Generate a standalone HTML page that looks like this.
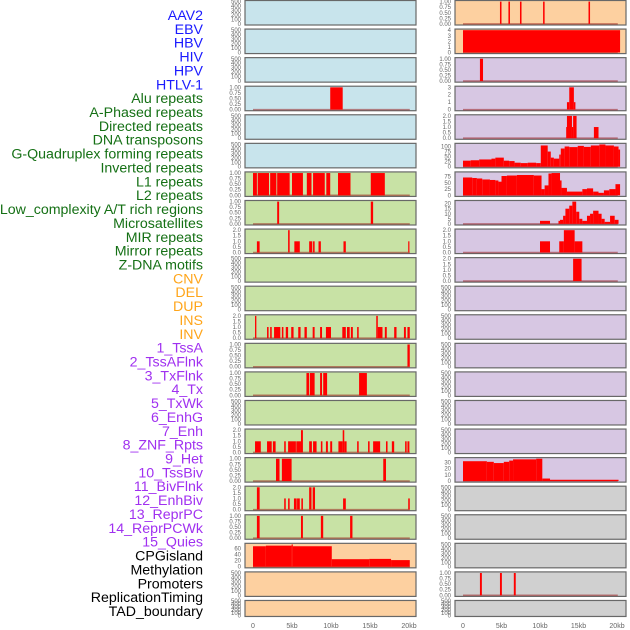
<!DOCTYPE html>
<html><head><meta charset="utf-8">
<style>
html,body{margin:0;padding:0;background:#fff;}
svg{display:block;font-family:"Liberation Sans",sans-serif;}
</style></head>
<body>
<svg id="chart" width="630" height="630" viewBox="0 0 630 630" xmlns="http://www.w3.org/2000/svg"></svg>
<script>
const labels = ["AAV2","EBV","HBV","HIV","HPV","HTLV-1","Alu repeats","A-Phased repeats","Directed repeats","DNA transposons","G-Quadruplex forming repeats","Inverted repeats","L1 repeats","L2 repeats","Low_complexity A/T rich regions","Microsatellites","MIR repeats","Mirror repeats","Z-DNA motifs","CNV","DEL","DUP","INS","INV","1_TssA","2_TssAFlnk","3_TxFlnk","4_Tx","5_TxWk","6_EnhG","7_Enh","8_ZNF_Rpts","9_Het","10_TssBiv","11_BivFlnk","12_EnhBiv","13_ReprPC","14_ReprPCWk","15_Quies","CPGisland","Methylation","Promoters","ReplicationTiming","TAD_boundary"];
const labelColors = [];
labels.forEach((l,i)=>labelColors.push(i<6?"#1a1aff":i<19?"#157015":i<24?"#ffa51a":i<39?"#a030f0":"#000"));
const xTicks = [0,5,10,15,20];
const xTickLabels = ["0","5kb","10kb","15kb","20kb"];

// bars: [startKb, endKb, value]
const L3 = [[9.9,11.5,1]];
const L6 = [[0,0.5,1],[0.6,2.05,1],[2.2,3.0,1],[3.1,4.7,1],[5.0,6.4,1],[6.9,7.5,1],[7.7,9.2,1],[9.4,9.9,1],[10.9,12.5,1],[15.1,16.9,1]];
const L7 = [[3.1,3.35,1],[15.1,15.4,1]];
const L8 = [[0.5,0.85,1],[4.5,4.7,2],[5.3,6.0,1],[7.2,7.6,1],[7.7,7.9,1],[8.4,8.7,1],[11.6,11.9,1],[19.9,20.05,1]];
const L11 = [[0.26,0.43,2],[1.8,2.0,1],[2.2,2.4,1],[2.7,3.5,1],[3.7,3.9,1],[4.2,4.5,1],[4.9,5.2,1],[5.8,6.1,1],[6.6,6.9,1],[7.65,7.9,1],[8.6,8.85,1],[9.35,10.0,1],[11.45,11.9,1],[12.05,12.4,1],[12.55,12.8,1],[13.35,13.55,1],[15.8,16.0,2],[16.0,16.6,1],[16.9,17.15,1],[18.1,18.4,1],[19.35,19.6,1],[19.8,20.1,1]];
const L12 = [[19.8,20.1,1]];
const L13 = [[6.85,7.2,1],[7.3,7.9,1],[8.6,8.85,1],[9.0,9.5,1],[13.6,14.6,1]];
const L15 = [[0.26,1.0,1],[1.8,2.4,1],[2.55,2.9,1],[4.0,4.2,1],[4.5,5.5,1],[5.55,6.15,1],[6.15,6.4,2],[7.2,7.55,1],[7.7,8.15,1],[8.7,8.9,1],[9.35,9.6,1],[9.9,10.15,1],[10.95,11.5,1],[11.5,11.7,2],[11.7,12.0,1],[13.35,13.55,1],[14.75,14.95,1],[15.4,16.3,1],[17.05,17.25,1],[17.8,18.1,1],[19.5,19.7,1],[19.8,20.05,1]];
const L16 = [[2.95,3.4,1],[3.7,4.95,1],[16.7,17.05,1]];
const L17 = [[0.5,0.85,2],[4.0,4.2,1],[4.5,4.7,1],[5.25,5.6,1],[5.65,6.0,1],[6.2,6.4,1],[7.2,7.5,2],[7.65,7.95,2],[11.55,11.9,1],[19.9,20.1,1]];
const L18 = [[0.5,0.85,1],[6.15,6.4,1],[8.7,9.0,1],[12.45,12.75,1]];
const L19 = [[0,1.65,68],[1.65,4.95,70],[4.95,5.1,74],[5.1,10.1,68],[10.1,14.9,25],[14.9,17.7,26],[17.7,20.1,22]];

const R0 = [[4.8,5.0,1],[5.9,6.1,1],[7.4,7.6,1],[10.4,10.6,1],[16.3,16.5,1]];
const R1 = [[0,20.4,4]];
const R2 = [[2.2,2.6,1]];
const R3 = [[13.5,13.8,1],[13.8,14.4,3],[14.4,14.6,1]];
const R4 = [[13.4,13.5,1],[13.5,14.15,2],[14.15,14.3,1],[14.3,14.75,2],[17.0,17.6,1]];
const R5 = [[0,1,30],[1,2.1,32],[2.1,3.7,36],[3.7,4.2,40],[4.2,5.3,45],[5.3,6.0,30],[6.0,6.7,28],[6.7,7.5,20],[7.5,8.4,18],[8.4,9.5,20],[9.5,10.1,18],[10.1,11.0,105],[11.0,11.4,75],[11.4,11.8,45],[11.8,12.5,40],[12.5,12.7,60],[12.7,13.2,90],[13.2,13.8,100],[13.8,14.9,97],[14.9,15.7,103],[15.7,16.6,98],[16.6,17.7,105],[17.7,18.5,110],[18.5,19.6,105],[19.6,20.2,100],[20.2,20.4,85]];
const R6 = [[0,1.2,72],[1.2,1.8,70],[1.8,2.5,68],[2.5,3.5,64],[3.5,4.2,62],[4.2,4.6,60],[4.6,5.0,55],[5.0,5.7,78],[5.7,7.0,80],[7.0,9.2,82],[9.2,10.2,80],[10.2,10.6,25],[10.6,11.1,40],[11.1,11.5,88],[11.5,12.6,90],[12.6,12.8,60],[12.8,13.5,30],[13.5,15.5,15],[15.5,16.1,25],[16.1,16.9,28],[16.9,17.6,15],[17.6,18.3,10],[18.3,19.0,20],[19.0,19.8,25],[19.8,20.4,45]];
const R7 = [[10.0,11.3,3],[12.4,12.6,3],[12.6,13.0,4],[13.0,13.3,8],[13.3,13.8,15],[13.8,14.2,18],[14.2,14.7,22],[14.7,15.1,12],[15.1,15.5,5],[15.5,16.1,3],[16.1,16.5,8],[16.5,16.9,10],[16.9,17.6,13],[17.6,18.0,10],[18.0,18.4,5],[18.4,19.1,2],[19.1,19.7,8],[19.7,20.2,4]];
const R8 = [[10.0,11.3,1],[12.5,13.1,1],[13.1,14.5,2],[14.5,15.5,1]];
const R9 = [[14.3,15.4,2]];
const R16 = [[0,3.1,32],[3.1,4.0,31],[4.0,5.3,29],[5.3,6.0,31],[6.0,6.5,33],[6.5,9.5,35],[9.5,10.3,36],[10.3,11.3,4],[11.3,20.2,2]];
const R20 = [[2.2,2.45,1],[4.8,5.05,1],[6.6,6.85,1]];

const T500 = [[0,100,200,300,400,500],["0","100","200","300","400","500"]];
const T1 = [[0,0.25,0.5,0.75,1],["0.00","0.25","0.50","0.75","1.00"]];
const T2 = [[0,0.5,1,1.5,2],["0.0","0.5","1.0","1.5","2.0"]];
const T3 = [[0,1,2,3],["0","1","2","3"]];
const T4 = [[0,1,2,3,4],["0","1","2","3","4"]];
const T20 = [[0,5,10,15,20],["0","5","10","15","20"]];
const T30 = [[0,10,20,30],["0","10","20","30"]];
const T60 = [[0,20,40,60],["0","20","40","60"]];
const T75 = [[0,25,50,75],["0","25","50","75"]];
const T100 = [[0,25,50,75,100],["0","25","50","75","100"]];

const BLUE="#c8e4ec", GREEN="#c8e2a5", ORANGE="#fdd0a0", PURPLE="#d7c7e3", GRAY="#d0d0d0";
const leftPanels = [
 [BLUE,null,T500,500],[BLUE,null,T500,500],[BLUE,null,T500,500],[BLUE,L3,T1,1],[BLUE,null,T500,500],[BLUE,null,T500,500],
 [GREEN,L6,T1,1],[GREEN,L7,T1,1],[GREEN,L8,T2,2],[GREEN,null,T500,500],[GREEN,null,T500,500],[GREEN,L11,T2,2],
 [GREEN,L12,T1,1],[GREEN,L13,T1,1],[GREEN,null,T500,500],[GREEN,L15,T2,2],[GREEN,L16,T1,1],[GREEN,L17,T2,2],[GREEN,L18,T1,1],
 [ORANGE,L19,T60,74],[ORANGE,null,T500,500],[ORANGE,null,T500,500]];
const rightPanels = [
 [ORANGE,R0,T1,1],[ORANGE,R1,T4,4],[PURPLE,R2,T1,1],[PURPLE,R3,T3,3],[PURPLE,R4,T2,2],[PURPLE,R5,T100,110],[PURPLE,R6,T75,90],
 [PURPLE,R7,T20,22],[PURPLE,R8,T2,2],[PURPLE,R9,T2,2],[PURPLE,null,T500,500],[PURPLE,null,T500,500],[PURPLE,null,T500,500],
 [PURPLE,null,T500,500],[PURPLE,null,T500,500],[PURPLE,null,T500,500],[PURPLE,R16,T30,36],
 [GRAY,null,T500,500],[GRAY,null,T500,500],[GRAY,null,T500,500],[GRAY,R20,T1,1],[GRAY,null,T500,500]];

const NS="http://www.w3.org/2000/svg";
const svg=document.getElementById("chart");
function mk(tag,attrs,parent){const e=document.createElementNS(NS,tag);for(const k in attrs)e.setAttribute(k,attrs[k]);(parent||svg).appendChild(e);return e;}

labels.forEach((t,i)=>{
  const e=mk("text",{x:203,y:20+i*13.86,"text-anchor":"end","font-size":"14.2",fill:labelColors[i]});
  
  
  e.textContent=t;
});

const cols=[{x0:245,x1:416,zero:253,k:7.8,panels:leftPanels,tick:241,name:'left'},{x0:455,x1:626,zero:463,k:7.7,panels:rightPanels,tick:451,name:'right'}];
cols.forEach(c=>{
  const xs=kb=>c.zero+kb*c.k;
  c.panels.forEach((p,i)=>{
    const top=i*28.57+0.5, h=(i===21)?16:24.5;
    const g=mk("g",{});
    
    
    const bg=mk("rect",{x:c.x0,y:top,width:c.x1-c.x0,height:h,fill:p[0],stroke:"#686868","stroke-width":1.2},g);
    
    
    const ymax=p[3], lo=-0.05*ymax, hi=1.05*ymax;
    const ys=v=>top+h*(hi-v)/(hi-lo);
    p[2][0].forEach((tv,j)=>{
      const t=mk("text",{x:c.tick,y:ys(tv)+2,"text-anchor":"end","font-size":"6",fill:"#666"},g);
      
      
      t.textContent=p[2][1][j];
    });
    if(p[1]){
      const base=mk("line",{x1:xs(0),x2:xs(20.1),y1:ys(0),y2:ys(0),stroke:"rgba(150,20,20,0.5)","stroke-width":1.5},g);
      
      
      p[1].forEach(b=>{
        const y=ys(b[2]);
        const r=mk("rect",{x:xs(b[0]),y:y,width:Math.max(1.2,xs(b[1])-xs(b[0])),height:ys(0)-y,fill:"#ff0000"},g);
        
        
      });
    }
  });
  xTicks.forEach((v,j)=>{
    const t=mk("text",{x:xs(v),y:628,"text-anchor":"middle","font-size":"7",fill:"#666"});
    
    
    t.textContent=xTickLabels[j];
  });
});
</script>
</body></html>
